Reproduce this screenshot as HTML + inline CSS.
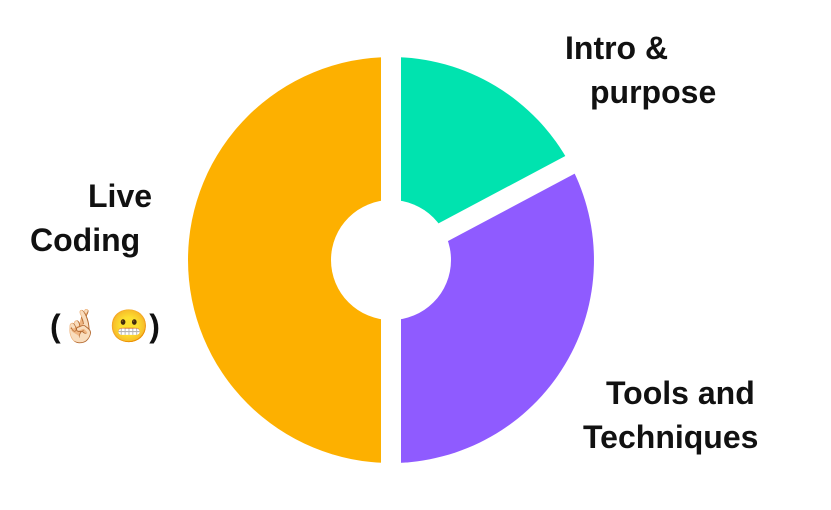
<!DOCTYPE html>
<html><head><meta charset="utf-8"><style>
body{margin:0;width:831px;height:510px;background:#fff;overflow:hidden;position:relative;font-family:"Liberation Sans","DejaVu Sans",sans-serif}
.t{position:absolute;font-weight:bold;font-size:32px;color:#111;white-space:nowrap;line-height:1}
</style></head><body>
<svg width="831" height="510" style="position:absolute;left:0;top:0">
<path d="M391,260 L391,57 A203,203 0 0 0 391,463 Z" fill="#FDB000"/>
<path d="M391,260 L391,57 A203,203 0 0 1 570.2,164.7 Z" fill="#00E3AF"/>
<path d="M391,260 L570.2,164.7 A203,203 0 0 1 391,463 Z" fill="#8F5BFF"/>
<line x1="391" y1="40" x2="391" y2="480" stroke="#fff" stroke-width="20"/>
<line x1="391" y1="260" x2="605" y2="146.2" stroke="#fff" stroke-width="20"/>
<circle cx="391" cy="260" r="60" fill="#fff"/>
</svg>
<div class="t" style="left:565px;top:32px">Intro &amp;</div>
<div class="t" style="left:590px;top:76px">purpose</div>
<div class="t" style="left:88px;top:180px">Live</div>
<div class="t" style="left:30px;top:224px">Coding</div>
<div class="t" style="left:50px;top:310px">(🤞🏻 😬)</div>
<div class="t" style="left:606px;top:377px">Tools and</div>
<div class="t" style="left:583px;top:421px">Techniques</div>
</body></html>
